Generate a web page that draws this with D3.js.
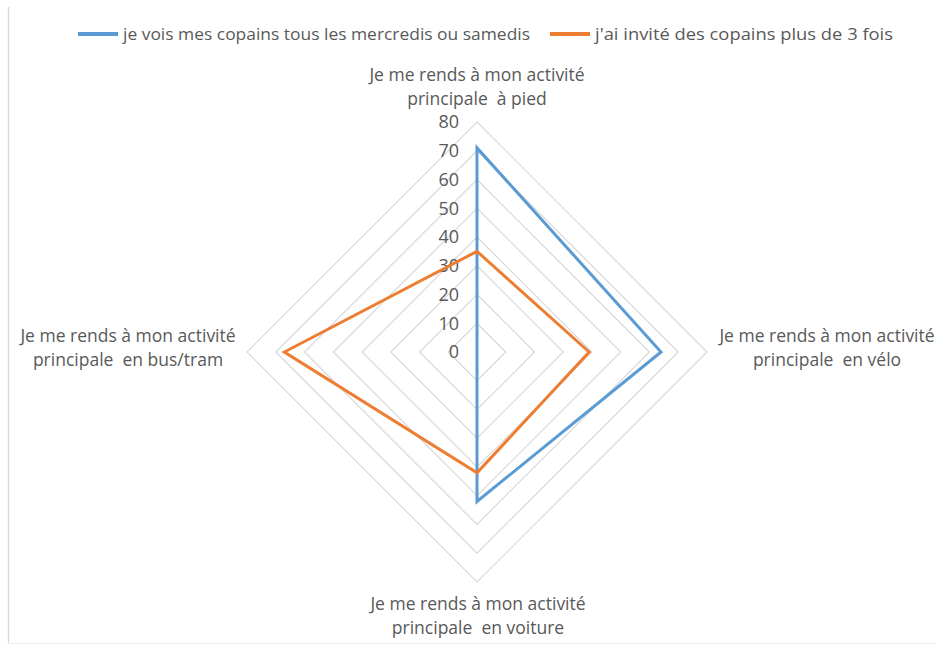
<!DOCTYPE html>
<html><head><meta charset="utf-8">
<script src="https://cdnjs.cloudflare.com/ajax/libs/d3/7.8.5/d3.min.js"></script>
<style>body{margin:0;background:#fff}svg{display:block}text{font-family:"Open Sans",sans-serif;fill:#595959}</style>
</head><body><svg id="c" width="937" height="646"></svg>
<script>
const categories = [
  ["Je me rends à mon activité", "principale  à pied"],
  ["Je me rends à mon activité", "principale  en vélo"],
  ["Je me rends à mon activité", "principale  en voiture"],
  ["Je me rends à mon activité", "principale  en bus/tram"]
];
const seriesNames = ["je vois mes copains tous les mercredis ou samedis", "j'ai invité des copains plus de 3 fois"];
const seriesBlue = [71, 64, 52, 0];
const seriesOrange = [35, 39, 42, 67];
const ticks = [0, 10, 20, 30, 40, 50, 60, 70, 80];
const colors = ["#5b9bd5", "#ed7d31"];

const svg = d3.select("#c");
const cx = 477, cy = 352, R = 230;
const r = d3.scaleLinear().domain([0, 80]).range([0, R]);
const ang = d3.scaleLinear().domain([0, categories.length]).range([0, 2 * Math.PI]);
const pt = (i, v) => [cx + r(v) * Math.sin(ang(i)), cy - r(v) * Math.cos(ang(i))];

// frame
svg.append("line").attr("x1", 8.5).attr("x2", 8.5).attr("y1", 7).attr("y2", 643).attr("stroke", "#d9d9d9").attr("stroke-width", 1.5);
svg.append("line").attr("x1", 8).attr("x2", 937).attr("y1", 643.5).attr("y2", 643.5).attr("stroke", "#ececec").attr("stroke-width", 1);

// grid rings
const ringLine = d3.line().curve(d3.curveLinearClosed);
svg.append("g").selectAll("path").data(ticks.slice(1)).join("path")
  .attr("d", t => ringLine(categories.map((c, i) => pt(i, t))))
  .attr("fill", "none").attr("stroke", "#d9d9d9").attr("stroke-width", 1.2);

// tick labels
svg.append("g").selectAll("text").data(ticks).join("text")
  .attr("x", cx - 18).attr("y", t => cy - r(t)).attr("dy", "0.35em")
  .attr("text-anchor", "end").attr("font-size", 18).text(t => t);

// series
[seriesBlue, seriesOrange].forEach((s, k) => {
  svg.append("path").attr("d", ringLine(s.map((v, i) => pt(i, v))))
    .attr("fill", "none").attr("stroke", colors[k]).attr("stroke-width", 3).attr("stroke-linejoin", "miter");
});

// category labels
const labelPos = [[477, 81], [827, 342], [478, 610], [128, 342]];
categories.forEach((c, i) => {
  const t = svg.append("text").attr("text-anchor", "middle").attr("font-size", 17.5);
  c.forEach((line, j) => {
    t.append("tspan").attr("x", labelPos[i][0]).attr("y", labelPos[i][1] + j * 24).attr("xml:space", "preserve").style("white-space", "pre").text(line);
  });
});

// legend
const legX = [78, 550], legLen = [407, 298];
seriesNames.forEach((n, k) => {
  svg.append("line").attr("x1", legX[k]).attr("x2", legX[k] + 40).attr("y1", 34).attr("y2", 34)
    .attr("stroke", colors[k]).attr("stroke-width", 4);
  svg.append("text").attr("x", legX[k] + 45).attr("y", 40).attr("font-size", 17)
    .attr("textLength", legLen[k]).attr("lengthAdjust", "spacingAndGlyphs").text(n);
});
</script></body></html>
